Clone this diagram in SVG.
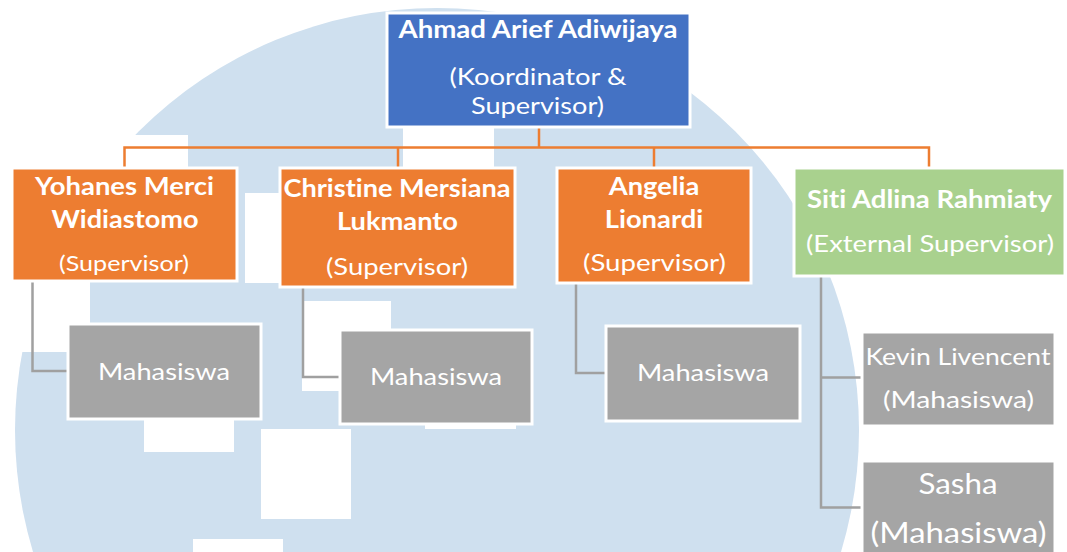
<svg xmlns="http://www.w3.org/2000/svg" width="1067" height="552" viewBox="0 0 1067 552">
<style>
text { font-family: Lato, "Liberation Sans", sans-serif; fill: #ffffff; text-anchor: middle; font-size: 24px; font-variant-ligatures: none; }
.b { font-weight: bold; }
.box { stroke: #ffffff; stroke-width: 3; }
.blue { fill: #4472C4; }
.orange { fill: #ED7D31; }
.green { fill: #A9D18E; }
.gray { fill: #A5A5A5; }
.oc { stroke: #ED7D31; stroke-width: 2.5; fill: none; }
.gc { stroke: #A0A0A0; stroke-width: 2.5; fill: none; }
.bg { fill: #CFE0EF; }
.wh { fill: #ffffff; }
</style>
<rect width="1067" height="552" fill="#ffffff"/>
<g id="background">
  <circle class="bg" cx="437" cy="430" r="422"/>
  <rect class="wh" x="0" y="135" width="188" height="140"/>
  <rect class="wh" x="0" y="270" width="90" height="82"/>
  <rect class="wh" x="245" y="193" width="90" height="90"/>
  <rect class="wh" x="403" y="110" width="91" height="80"/>
  <rect class="wh" x="302" y="301" width="89" height="90"/>
  <rect class="wh" x="144" y="400" width="90" height="52"/>
  <rect class="wh" x="261" y="429" width="90" height="90"/>
  <rect class="wh" x="193" y="539" width="90" height="20"/>
  <rect class="wh" x="425" y="400" width="91" height="29"/>
</g>
<g id="connectors">
  <path class="oc" d="M539 127 V147.5 M124.5 168 V147.5 H929 V168 M398 147.5 V168 M654 147.5 V168"/>
  <path class="gc" d="M32.5 282 V371 H68"/>
  <path class="gc" d="M303 287 V377 H340"/>
  <path class="gc" d="M576 283 V373 H606"/>
  <path class="gc" d="M821 277 V507.5 H862 M821 377.5 H862"/>
</g>
<g id="ahmad">
  <rect class="box blue" x="387" y="13" width="303" height="114"/>
  <text class="b" x="538" y="38" textLength="279" lengthAdjust="spacingAndGlyphs">Ahmad Arief Adiwijaya</text>
  <text x="538" y="85" textLength="177" lengthAdjust="spacingAndGlyphs">(Koordinator &amp;</text>
  <text x="537.5" y="114" textLength="133" lengthAdjust="spacingAndGlyphs">Supervisor)</text>
</g>
<g id="yohanes">
  <rect class="box orange" x="12" y="168" width="225" height="113"/>
  <text class="b" x="124.5" y="195" textLength="179" lengthAdjust="spacingAndGlyphs">Yohanes Merci</text>
  <text class="b" x="125" y="228" textLength="147" lengthAdjust="spacingAndGlyphs">Widiastomo</text>
  <text x="124" y="271" style="font-size:22px" textLength="130" lengthAdjust="spacingAndGlyphs">(Supervisor)</text>
</g>
<g id="christine">
  <rect class="box orange" x="280" y="168" width="235" height="119"/>
  <text class="b" x="397" y="197" textLength="227" lengthAdjust="spacingAndGlyphs">Christine Mersiana</text>
  <text class="b" x="397.5" y="229.5" textLength="121" lengthAdjust="spacingAndGlyphs">Lukmanto</text>
  <text x="397" y="275" textLength="142" lengthAdjust="spacingAndGlyphs">(Supervisor)</text>
</g>
<g id="angelia">
  <rect class="box orange" x="557" y="168" width="194" height="115"/>
  <text class="b" x="654" y="195" textLength="90.5" lengthAdjust="spacingAndGlyphs">Angelia</text>
  <text class="b" x="654" y="228" textLength="98.5" lengthAdjust="spacingAndGlyphs">Lionardi</text>
  <text x="654.5" y="270.5" textLength="143" lengthAdjust="spacingAndGlyphs">(Supervisor)</text>
</g>
<g id="siti">
  <rect class="box green" x="794" y="168" width="271" height="108"/>
  <text class="b" x="929.5" y="208" textLength="245" lengthAdjust="spacingAndGlyphs">Siti Adlina Rahmiaty</text>
  <text x="930" y="252" textLength="248" lengthAdjust="spacingAndGlyphs">(External Supervisor)</text>
</g>
<g id="mahasiswa1">
  <rect class="box gray" x="68" y="324" width="193" height="95"/>
  <text x="164" y="380" textLength="132" lengthAdjust="spacingAndGlyphs">Mahasiswa</text>
</g>
<g id="mahasiswa2">
  <rect class="box gray" x="340" y="330" width="192" height="94"/>
  <text x="436" y="385" textLength="132" lengthAdjust="spacingAndGlyphs">Mahasiswa</text>
</g>
<g id="mahasiswa3">
  <rect class="box gray" x="606" y="326" width="194" height="95"/>
  <text x="703" y="381" textLength="132" lengthAdjust="spacingAndGlyphs">Mahasiswa</text>
</g>
<g id="kevin">
  <rect class="box gray" x="862" y="332" width="193" height="94"/>
  <text x="958" y="365" textLength="185" lengthAdjust="spacingAndGlyphs">Kevin Livencent</text>
  <text x="958.5" y="408" textLength="151" lengthAdjust="spacingAndGlyphs">(Mahasiswa)</text>
</g>
<g id="sasha">
  <rect class="box gray" x="862" y="461" width="193" height="100"/>
  <text x="958" y="494" style="font-size:28px" textLength="79" lengthAdjust="spacingAndGlyphs">Sasha</text>
  <text x="958.5" y="543" style="font-size:28px" textLength="176" lengthAdjust="spacingAndGlyphs">(Mahasiswa)</text>
</g>
</svg>
